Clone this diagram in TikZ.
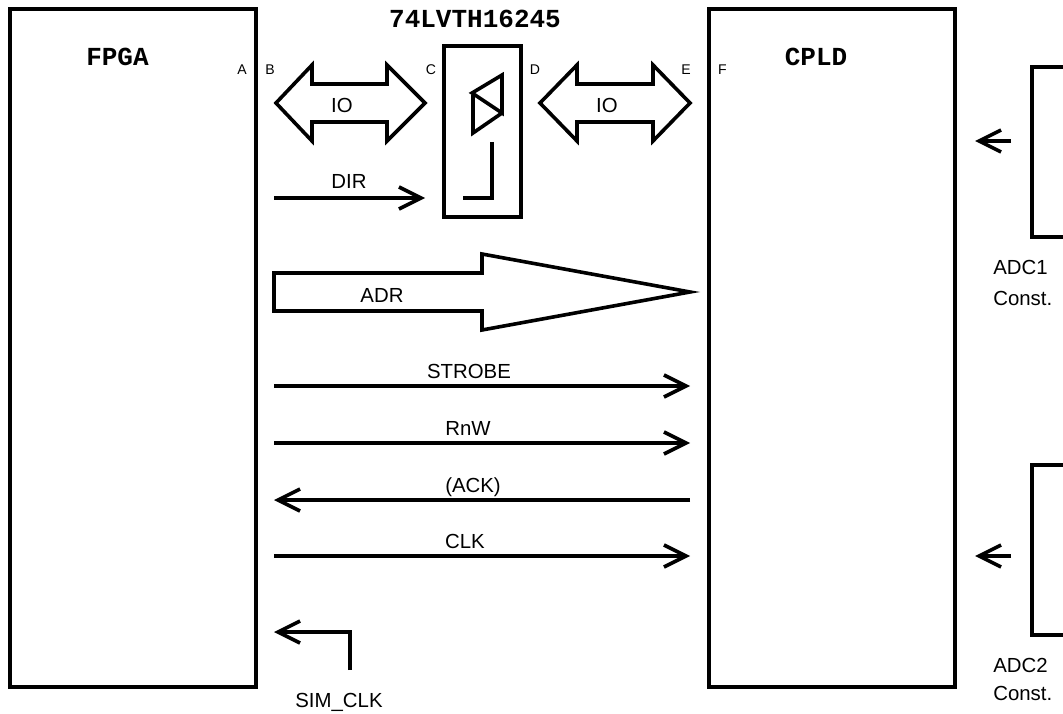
\documentclass[tikz,border=0pt]{standalone}
\usepackage{fontspec}
\setmainfont{Liberation Sans}
\setmonofont{Liberation Mono}
\usetikzlibrary{arrows.meta}
\tikzset{
  chip/.style    = {rectangle, draw=black, line width=0.9mm, fill=none, inner sep=0pt},
  sig/.style     = {-{Straight Barb[length=5.5mm, width=5.5mm]}, draw=black, line width=0.9mm},
  bus/.style     = {draw=black, line width=0.9mm},
  lbl/.style     = {font=\fontsize{14.5}{16}\selectfont, inner sep=0pt, anchor=base},
  pinlbl/.style  = {font=\fontsize{10}{12}\selectfont, inner sep=0pt, anchor=base},
  chipname/.style = {font=\fontsize{18.5}{20}\selectfont\ttfamily\bfseries, inner sep=0pt, anchor=base},
}
\begin{document}
\begin{tikzpicture}[x=0.25mm,y=-0.25mm]
  \useasboundingbox (0,0) rectangle (1063,714);
  \node[chip, minimum width=61.5mm, minimum height=169.5mm] (fpga) at (133,348) {};
  \node[chip, minimum width=61.5mm, minimum height=169.5mm] (cpld) at (832,348) {};
  \node[chip, minimum width=19.25mm, minimum height=42.75mm] (buf) at (482.5,131.5) {};
  \node[chip, minimum width=30mm, minimum height=42.6mm, anchor=north west] (adc1) at (1030,65) {};
  \node[chip, minimum width=30mm, minimum height=42.6mm, anchor=north west] (adc2) at (1030,463) {};
  \node[chipname] (fpganame) at (117.5,66) {FPGA};
  \node[chipname] (cpldname) at (816,66) {CPLD};
  \node[chipname] (bufname) at (475,28) {74LVTH16245};
  % pin letters
  \node[pinlbl] (pa) at (242,75) {A};
  \node[pinlbl] (pb) at (270,75) {B};
  \node[pinlbl] (pc) at (431,75) {C};
  \node[pinlbl] (pd) at (535,75) {D};
  \node[pinlbl] (pe) at (686,75) {E};
  \node[pinlbl] (pf) at (722.5,75) {F};
  % wide buses
  \draw[bus] (276,103) -- (312,65) -- (312,84) -- (387,84) -- (387,65) -- (425,103)
    -- (387,141) -- (387,122) -- (312,122) -- (312,141) -- cycle;
  \draw[bus] (540,103) -- (577,65) -- (577,84) -- (653,84) -- (653,65) -- (690,103)
    -- (653,141) -- (653,122) -- (577,122) -- (577,141) -- cycle;
  \draw[bus] (274,273) -- (482,273) -- (482,254) -- (690,292) -- (482,330)
    -- (482,311) -- (274,311) -- cycle;
  \node[lbl] (io1) at (342,113) {IO};
  \node[lbl] (io2) at (607,113) {IO};
  \node[lbl] (adr) at (382,302) {ADR};
  % buffer symbol
  \draw[bus] (472,93) -- (502,75) -- (502,113) -- cycle;
  \draw[bus] (473,95) -- (473,133) -- (502,113);
  \draw[bus] (492,142) -- (492,198) -- (463,198);
  % single signals
  \coordinate (dirs) at (274,198);
  \coordinate (dirt) at (425,198);
  \draw[sig] (dirs) -- (dirt);
  \node[lbl] (dir) at (349,189) {DIR};
  \foreach \n/\y/\x/\t in {strobe/386/469/STROBE,rnw/443/468/RnW,clk/556/465/CLK}{
    \coordinate (\n a) at (274,\y);
    \coordinate (\n b) at (690,\y);
    \draw[sig] (\n a) -- (\n b);
    \node[lbl] (\n) at (\x,\y-8) {\t};
  }
  \coordinate (acka) at (690,500);
  \coordinate (ackb) at (274,500);
  \draw[sig] (acka) -- (ackb);
  \node[lbl] (ack) at (473,492) {(ACK)};
  \coordinate (sima) at (350,670);
  \coordinate (simb) at (274,632);
  \draw[sig] (sima) |- (simb);
  \node[lbl] (sim) at (339,707) {SIM\_CLK};
  % converter inputs
  \coordinate (ina) at (1011,141);
  \coordinate (inb) at (975,141);
  \coordinate (inc) at (1011,556);
  \coordinate (ind) at (975,556);
  \draw[sig] (ina) -- (inb);
  \draw[sig] (inc) -- (ind);
  \node[lbl, anchor=base west] (adcname1) at (993,275) {ADC1};
  \node[lbl, anchor=base west] (const1) at (993,305) {Const.};
  \node[lbl, anchor=base west] (adcname2) at (993,672) {ADC2};
  \node[lbl, anchor=base west] (const2) at (993,700) {Const.};
\end{tikzpicture}
\end{document}
